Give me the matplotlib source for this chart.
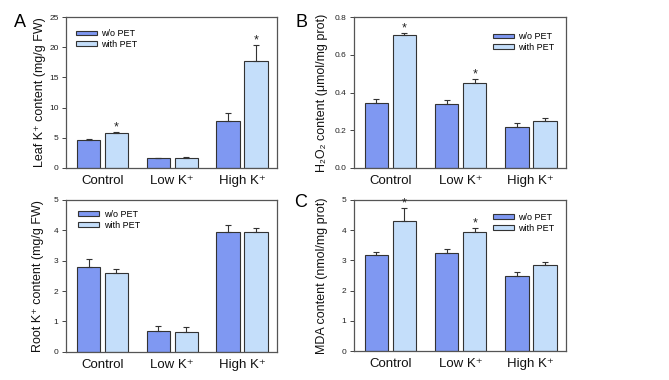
import numpy as np
import matplotlib
matplotlib.use('Agg')
import matplotlib.pyplot as plt
from matplotlib.ticker import FormatStrFormatter

plt.rcParams['font.family'] = ['Liberation Sans', 'DejaVu Sans']

groups = ['Control', 'Low K\u207a', 'High K\u207a']
series = ['w/o PET', 'with PET']

leaf_wo = [4.6, 1.6, 7.8]
leaf_wo_err = [0.2, 0.1, 1.3]
leaf_with = [5.8, 1.7, 17.8]
leaf_with_err = [0.15, 0.1, 2.6]
leaf_star = [True, False, True]

h2o2_wo = [0.345, 0.34, 0.218]
h2o2_wo_err = [0.02, 0.018, 0.02]
h2o2_with = [0.703, 0.452, 0.248]
h2o2_with_err = [0.015, 0.02, 0.015]
h2o2_star = [True, True, False]

root_wo = [2.78, 0.68, 3.95]
root_wo_err = [0.27, 0.18, 0.23]
root_with = [2.6, 0.67, 3.95]
root_with_err = [0.13, 0.16, 0.12]
root_star = [False, False, False]

mda_wo = [3.18, 3.23, 2.48]
mda_wo_err = [0.1, 0.14, 0.14]
mda_with = [4.3, 3.95, 2.85]
mda_with_err = [0.42, 0.13, 0.1]
mda_star = [True, True, False]

c_dark = '#7f98f2'
c_light = '#c4defa'
edge = '#333333'

fig = plt.figure(figsize=(6.69, 3.8), dpi=100)


def panel(rect, wo, wo_err, wi, wi_err, star, ylim, yticks, ylabel, label_x, leg_anchor):
    ax = fig.add_axes(rect)
    x = np.arange(len(groups))
    w = 0.335
    off = 0.2
    b1 = ax.bar(x - off, wo, w, color=c_dark, edgecolor=edge, linewidth=0.8,
                label=series[0], zorder=2)
    b2 = ax.bar(x + off, wi, w, color=c_light, edgecolor=edge, linewidth=0.8,
                label=series[1], zorder=2)
    ax.errorbar(x - off, wo, yerr=[np.zeros(3), wo_err], fmt='none', ecolor=edge,
                elinewidth=0.8, capsize=2.5, capthick=0.8, zorder=3)
    ax.errorbar(x + off, wi, yerr=[np.zeros(3), wi_err], fmt='none', ecolor=edge,
                elinewidth=0.8, capsize=2.5, capthick=0.8, zorder=3)
    rng = ylim[1] - ylim[0]
    for i in range(len(groups)):
        if star[i]:
            ax.text(x[i] + off, wi[i] + wi_err[i] - rng * 0.01, '*', ha='center',
                    va='bottom', fontsize=9, color='#222222')
    ax.set_xlim(-0.52, 2.5)
    ax.set_ylim(*ylim)
    ax.set_yticks(yticks)
    ax.set_xticks(x)
    ax.set_xticklabels(groups, fontsize=9.5, color='#111111')
    ax.tick_params(axis='x', length=0, pad=5)
    ax.tick_params(axis='y', labelsize=6, length=3, width=0.7, direction='out',
                   color='#444444', labelcolor='#222222', pad=2.5)
    for s in ax.spines.values():
        s.set_color('#555555')
        s.set_linewidth(0.9)
    ax.set_ylabel(ylabel, fontsize=9, color='#111111')
    ax.yaxis.set_label_coords(label_x, 0.5)
    ax.legend(handles=[b1, b2], loc='upper left', bbox_to_anchor=leg_anchor,
              fontsize=6.5, frameon=False, borderpad=0, borderaxespad=0,
              handlelength=2.3, handleheight=0.45, handletextpad=0.5,
              labelspacing=0.2)
    return ax


panel([0.099, 0.558, 0.315, 0.397], leaf_wo, leaf_wo_err, leaf_with, leaf_with_err,
      leaf_star, (0, 25), [0, 5, 10, 15, 20, 25],
      'Leaf K\u207a content (mg/g FW)', -0.095, (0.047, 0.92))
axb = panel([0.529, 0.558, 0.317, 0.397], h2o2_wo, h2o2_wo_err, h2o2_with, h2o2_with_err,
            h2o2_star, (0, 0.8), [0.0, 0.2, 0.4, 0.6, 0.8],
            'H\u2082O\u2082 content (\u03bcmol/mg prot)', -0.123, (0.656, 0.90))
axb.yaxis.set_major_formatter(FormatStrFormatter('%.1f'))
panel([0.099, 0.074, 0.315, 0.400], root_wo, root_wo_err, root_with, root_with_err,
      root_star, (0, 5), [0, 1, 2, 3, 4, 5],
      'Root K\u207a content (mg/g FW)', -0.104, (0.057, 0.934))
panel([0.529, 0.076, 0.317, 0.398], mda_wo, mda_wo_err, mda_with, mda_with_err,
      mda_star, (0, 5), [0, 1, 2, 3, 4, 5],
      'MDA content (nmol/mg prot)', -0.123, (0.656, 0.914))

fig.text(0.030, 0.94, 'A', fontsize=13, ha='center', va='center')
fig.text(0.451, 0.94, 'B', fontsize=13, ha='center', va='center')
fig.text(0.449, 0.466, 'C', fontsize=13, ha='center', va='center')

fig.savefig('out.png', dpi=100)
